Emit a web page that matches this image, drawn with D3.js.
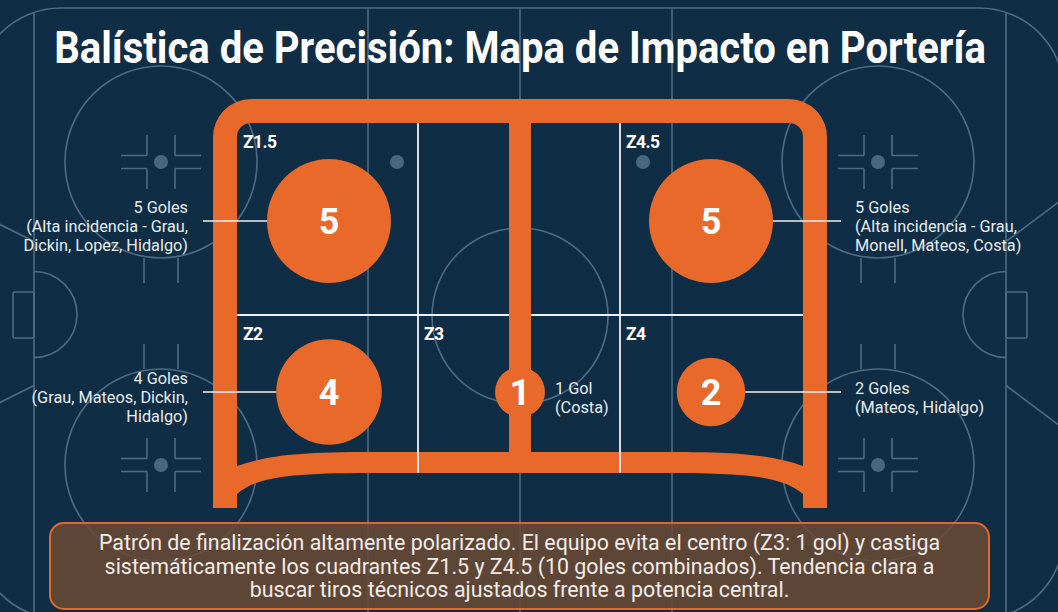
<!DOCTYPE html>
<html>
<head>
<meta charset="utf-8">
<script src="https://cdn.jsdelivr.net/npm/d3@7"></script>
<style>
  html, body { margin: 0; padding: 0; background: #0f2d45; }
  svg { display: block; font-family: Roboto, "Noto Sans", sans-serif; }
</style>
</head>
<body>
<script>
// ---------------- DATA ----------------
const titleText = "Balística de Precisión: Mapa de Impacto en Portería";
const zones = ["Z1.5", "Z4.5", "Z2", "Z3", "Z4"];
const goals = [5, 5, 4, 1, 2];
const zoneColumn = ["left", "right", "left", "center", "right"];
const zoneRow = ["upper", "upper", "lower", "lower", "lower"];
const goalHeadlines = ["5 Goles", "5 Goles", "4 Goles", "1 Gol", "2 Goles"];
const goalDetails = [
  ["(Alta incidencia - Grau,", "Dickin, Lopez, Hidalgo)"],
  ["(Alta incidencia - Grau,", "Monell, Mateos, Costa)"],
  ["(Grau, Mateos, Dickin,", "Hidalgo)"],
  ["(Costa)"],
  ["(Mateos, Hidalgo)"]
];
const summaryLines = [
  "Patrón de finalización altamente polarizado. El equipo evita el centro (Z3: 1 gol) y castiga",
  "sistemáticamente los cuadrantes Z1.5 y Z4.5 (10 goles combinados). Tendencia clara a",
  "buscar tiros técnicos ajustados frente a potencia central."
];

// ---------------- LAYOUT ----------------
const W = 1058, H = 612;
const C = { bg: "#0f2d45", rink: "#4c6c86", orange: "#e8692a", white: "#f1f1f1", text: "#e8edf1" };

const svg = d3.select("body").append("svg").attr("width", W).attr("height", H);
svg.append("rect").attr("width", W).attr("height", H).attr("fill", C.bg);

// ---------- Rink background ----------
const rink = { x0: -24, x1: 1064, y0: 8, y1: 619, r: 85, cx: 520, cy: 313.5 };
const defs = svg.append("defs");
defs.append("clipPath").attr("id", "rinkClip").append("rect")
  .attr("x", rink.x0).attr("y", rink.y0).attr("width", rink.x1 - rink.x0)
  .attr("height", rink.y1 - rink.y0).attr("rx", rink.r);

const rg = svg.append("g").attr("fill", "none").attr("stroke", C.rink).attr("stroke-width", 1.6);
rg.append("rect").attr("x", rink.x0).attr("y", rink.y0).attr("width", rink.x1 - rink.x0)
  .attr("height", rink.y1 - rink.y0).attr("rx", rink.r);
const rc = rg.append("g").attr("clip-path", "url(#rinkClip)");
[34, 368, 520, 672, 1006].forEach(x =>
  rc.append("line").attr("x1", x).attr("x2", x).attr("y1", 0).attr("y2", H));
// trapezoid lines
rc.append("line").attr("x1", 34).attr("y1", rink.cy - 72).attr("x2", -10).attr("y2", rink.cy - 94);
rc.append("line").attr("x1", 34).attr("y1", rink.cy + 72).attr("x2", -10).attr("y2", rink.cy + 94);
rc.append("line").attr("x1", 1006).attr("y1", rink.cy - 72).attr("x2", 1070).attr("y2", rink.cy - 120);
rc.append("line").attr("x1", 1006).attr("y1", rink.cy + 72).attr("x2", 1070).attr("y2", rink.cy + 120);
// creases and nets
const crease = d3.arc().innerRadius(43).outerRadius(43);
rc.append("path").attr("transform", `translate(34,${rink.cy + 1})`)
  .attr("d", crease({ startAngle: 0, endAngle: Math.PI }));
rc.append("path").attr("transform", `translate(1006,${rink.cy + 1})`)
  .attr("d", crease({ startAngle: Math.PI, endAngle: 2 * Math.PI }));
rc.append("rect").attr("x", 13).attr("y", 292).attr("width", 21).attr("height", 46).attr("rx", 2);
rc.append("rect").attr("x", 1006).attr("y", 292).attr("width", 21).attr("height", 46).attr("rx", 2);
// center circle
rc.append("circle").attr("cx", 520).attr("cy", 316).attr("r", 88);
// faceoff circles
const faceoffs = [[161, 162, 1], [161, 465, -1], [878, 162, 1], [878, 465, -1]];
faceoffs.forEach(([x, y, dir]) => {
  rc.append("circle").attr("cx", x).attr("cy", y).attr("r", 96);
  rc.append("circle").attr("cx", x).attr("cy", y).attr("r", 7).attr("fill", "#4a677e").attr("stroke", "none");
  [-1, 1].forEach(sx => [-1, 1].forEach(sy => {
    rc.append("line").attr("x1", x + sx * 14).attr("x2", x + sx * 40).attr("y1", y + sy * 6.5).attr("y2", y + sy * 6.5);
    rc.append("line").attr("x1", x + sx * 14).attr("x2", x + sx * 14).attr("y1", y + sy * 6.5).attr("y2", y + sy * 27);
  }));
  [-17, 17].forEach(dx =>
    rc.append("line").attr("x1", x + dx).attr("x2", x + dx)
      .attr("y1", y + dir * 96).attr("y2", y + dir * 121));
});
[[397, 162], [643, 162], [397, 465], [643, 465]].forEach(([x, y]) =>
  rc.append("circle").attr("cx", x).attr("cy", y).attr("r", 7).attr("fill", "#4a677e").attr("stroke", "none"));

// ---------- Title (condensed via horizontal scale) ----------
const titleG = svg.append("g");
const title = titleG.append("text").attr("x", 0).attr("y", 0).attr("text-anchor", "middle")
  .attr("font-size", 44).attr("font-weight", 700).attr("fill", "#ffffff")
  .text(titleText);
const natural = title.node().getComputedTextLength() || 1100;
titleG.attr("transform", `translate(520,63) scale(${932 / natural},1)`);

// ---------- Goal scales ----------
const colStart = d3.scaleOrdinal().domain(["left", "center", "right"]).range([237, 418, 620]);
const rowStart = d3.scaleOrdinal().domain(["upper", "lower"]).range([123, 315]);
const xPos = d3.scalePoint().domain(["left", "center", "right"]).range([329, 711]);
const yPos = d3.scalePoint().domain(["upper", "lower"]).range([221, 392]);
const rScale = d3.scaleLinear().domain([1, 5]).range([25, 62]);

const frame = { l: 213, r: 827, t: 99, b: 508, th: 24 };
const gg = svg.append("g");
// horizontal zone divider (under the centre post)
gg.append("line").attr("x1", frame.l + frame.th).attr("x2", frame.r - frame.th)
  .attr("y1", rowStart("lower")).attr("y2", rowStart("lower"))
  .attr("stroke", C.white).attr("stroke-width", 1.8);

const fp = d3.path();
fp.moveTo(frame.l, frame.b);
fp.lineTo(frame.l, frame.t + 38);
fp.arcTo(frame.l, frame.t, frame.l + 38, frame.t, 38);
fp.lineTo(frame.r - 38, frame.t);
fp.arcTo(frame.r, frame.t, frame.r, frame.t + 38, 38);
fp.lineTo(frame.r, frame.b);
fp.lineTo(frame.r - frame.th, frame.b);
fp.lineTo(frame.r - frame.th, frame.t + frame.th + 14);
fp.arcTo(frame.r - frame.th, frame.t + frame.th, frame.r - frame.th - 14, frame.t + frame.th, 14);
fp.lineTo(frame.l + frame.th + 14, frame.t + frame.th);
fp.arcTo(frame.l + frame.th, frame.t + frame.th, frame.l + frame.th, frame.t + frame.th + 14, 14);
fp.lineTo(frame.l + frame.th, frame.b);
fp.closePath();
gg.append("path").attr("d", fp.toString()).attr("fill", C.orange);
// centre post
gg.append("rect").attr("x", 509).attr("y", frame.t + 10).attr("width", 22).attr("height", 350).attr("fill", C.orange);
// bottom bar
const bp = d3.path();
bp.moveTo(237, 466);
bp.bezierCurveTo(270, 455, 300, 452, 370, 452);
bp.lineTo(670, 452);
bp.bezierCurveTo(740, 452, 770, 455, 803, 466);
bp.lineTo(803, 494);
bp.bezierCurveTo(785, 479, 760, 473, 670, 473);
bp.lineTo(370, 473);
bp.bezierCurveTo(280, 473, 255, 479, 237, 494);
bp.closePath();
gg.append("path").attr("d", bp.toString()).attr("fill", C.orange);
// vertical zone dividers
[colStart("center"), colStart("right")].forEach(x =>
  gg.append("line").attr("x1", x).attr("x2", x).attr("y1", frame.t + frame.th).attr("y2", 473)
    .attr("stroke", C.white).attr("stroke-width", 1.8));

// ---------- Zone labels ----------
gg.selectAll("text.zone").data(zones).join("text").attr("class", "zone")
  .attr("x", (d, i) => colStart(zoneColumn[i]) + 6)
  .attr("y", (d, i) => rowStart(zoneRow[i]) + 25)
  .attr("font-size", 17.5).attr("font-weight", 700).attr("fill", "#ffffff")
  .attr("letter-spacing", -0.6)
  .text(d => d);

// ---------- Bubbles ----------
const bubbles = gg.selectAll("g.bubble").data(zones).join("g").attr("class", "bubble")
  .attr("transform", (d, i) => `translate(${xPos(zoneColumn[i])},${yPos(zoneRow[i])})`);
bubbles.append("circle").attr("r", (d, i) => rScale(goals[i])).attr("fill", C.orange);
bubbles.append("text").attr("text-anchor", "middle").attr("dy", "0.36em")
  .attr("font-size", 36).attr("font-weight", 700).attr("fill", "#ffffff")
  .text((d, i) => goals[i]);

// ---------- Annotations ----------
zones.forEach((z, i) => {
  const col = zoneColumn[i];
  const cx = xPos(col), cy = yPos(zoneRow[i]), r = rScale(goals[i]);
  const lines = [goalHeadlines[i]].concat(goalDetails[i]);
  let tx, anchor;
  if (col === "left") {
    tx = 188; anchor = "end";
    gg.append("line").attr("x1", 203).attr("x2", cx - r).attr("y1", cy).attr("y2", cy)
      .attr("stroke", C.white).attr("stroke-width", 1.6);
  } else if (col === "right") {
    tx = 855; anchor = "start";
    gg.append("line").attr("x1", cx + r).attr("x2", 841).attr("y1", cy).attr("y2", cy)
      .attr("stroke", C.white).attr("stroke-width", 1.6);
  } else {
    tx = cx + r + 10; anchor = "start";
  }
  const lh = 19;
  const y0 = cy + 11 - (lines.length - 1) * lh / 2;
  const t = gg.append("text").attr("text-anchor", anchor).attr("font-size", 16.3)
    .attr("fill", C.text);
  lines.forEach((s, k) => t.append("tspan").attr("x", tx).attr("y", y0 + k * lh).text(s));
});

// ---------- Summary box ----------
svg.append("rect").attr("x", 50).attr("y", 523).attr("width", 939).attr("height", 86).attr("rx", 14)
  .attr("fill", "#6b4a35").attr("fill-opacity", 0.86)
  .attr("stroke", "#e0692a").attr("stroke-width", 2);
const st = svg.append("text").attr("text-anchor", "middle").attr("font-size", 21.4).attr("fill", "#f3ece7");
summaryLines.forEach((s, k) => st.append("tspan").attr("x", 519.5).attr("y", 550 + k * 23.5).text(s));
</script>
</body>
</html>
